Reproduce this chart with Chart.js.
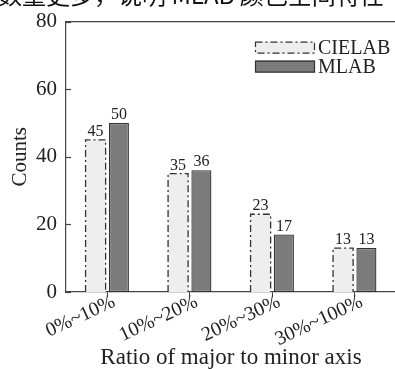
<!DOCTYPE html>
<html>
<head>
<meta charset="utf-8">
<script src="https://cdn.jsdelivr.net/npm/chart.js@4/dist/chart.umd.min.js"></script>
<style>
html, body { margin: 0; padding: 0; background: #fff; overflow: hidden; }
</style>
</head>
<body>
<canvas id="barChart" width="400" height="369"></canvas>
<script>
// data
const categories = ['0%~10%', '10%~20%', '20%~30%', '30%~100%'];
const cielabCounts = [45, 35, 23, 13];
const mlabCounts = [50, 36, 17, 13];
const seriesNames = ['CIELAB', 'MLAB'];
const yTicks = [0, 20, 40, 60, 80];
const xTitle = 'Ratio of major to minor axis';
const yTitle = 'Counts';
const captionLine = '数量更多，说明 MLAB 颜色空间特性';

const serif = "'Liberation Serif', 'DejaVu Serif', serif";
const inkColor = '#222';
const axisColor = '#444';
const dashDot = [7, 3, 2, 3];

// extra drawing: box, inward y ticks, dash-dot borders, value labels, legend, clipped caption
const extrasPlugin = {
    id: 'extras',
    afterDatasetsDraw(chart) {
        const c = chart.ctx;
        const area = chart.chartArea;
        const yScale = chart.scales.y;

        c.save();
        // top and right edge of the box
        c.strokeStyle = axisColor;
        c.lineWidth = 1.2;
        c.beginPath();
        c.moveTo(area.left, area.top);
        c.lineTo(area.right, area.top);
        c.lineTo(area.right, area.bottom);
        c.stroke();

        // inward y ticks
        yTicks.forEach(v => {
            const py = Math.round(yScale.getPixelForValue(v)) + 0.5;
            c.beginPath();
            c.moveTo(area.left, py);
            c.lineTo(area.left + 5, py);
            c.stroke();
        });

        // dash-dot border for the first series
        const meta0 = chart.getDatasetMeta(0);
        c.strokeStyle = '#333';
        c.lineWidth = 1.3;
        c.setLineDash(dashDot);
        meta0.data.forEach(bar => {
            const p = bar.getProps(['x', 'y', 'base', 'width'], true);
            const l = p.x - p.width / 2, r = p.x + p.width / 2;
            c.beginPath();
            c.moveTo(l, p.base);
            c.lineTo(l, p.y);
            c.lineTo(r, p.y);
            c.lineTo(r, p.base);
            c.stroke();
        });
        c.setLineDash([]);

        // value labels above bars
        c.fillStyle = inkColor;
        c.font = '16px ' + serif;
        c.textAlign = 'center';
        c.textBaseline = 'alphabetic';
        chart.data.datasets.forEach((ds, i) => {
            chart.getDatasetMeta(i).data.forEach((bar, j) => {
                const p = bar.getProps(['x', 'y'], true);
                c.fillText(String(ds.data[j]), p.x, p.y - 4);
            });
        });

        // legend, top right inside the box
        const boxW = 60, boxH = 12;
        const lx = area.right - 141;
        const rows = [area.top + 20, area.top + 39];
        c.font = '20px ' + serif;
        c.textAlign = 'left';
        c.textBaseline = 'middle';
        chart.data.datasets.forEach((ds, i) => {
            const ty = rows[i];
            c.fillStyle = ds.backgroundColor;
            c.fillRect(lx, ty, boxW, boxH);
            c.strokeStyle = '#333';
            c.lineWidth = 1.2;
            if (i === 0) c.setLineDash(dashDot);
            c.strokeRect(lx + 0.5, ty + 0.5, boxW - 1, boxH - 1);
            c.setLineDash([]);
            c.fillStyle = inkColor;
            c.fillText(seriesNames[i], lx + boxW + 3, ty + boxH / 2 + 1);
        });

        // caption line cut off at the top of the picture
        c.font = "24px 'Noto Sans CJK SC', sans-serif";
        c.textBaseline = 'alphabetic';
        c.fillStyle = '#111';
        c.fillText(captionLine, -2, 4);
        c.restore();
    }
};

const ctx = document.getElementById('barChart').getContext('2d');

const data = {
    labels: categories,
    datasets: [{
        label: seriesNames[0],
        data: cielabCounts,
        backgroundColor: '#eeeeee',
        borderWidth: 0,
    }, {
        label: seriesNames[1],
        data: mlabCounts,
        backgroundColor: '#7b7b7b',
        borderColor: '#333',
        borderWidth: 1.3,
        borderSkipped: false,
    }]
};

const options = {
    responsive: false,
    animation: false,
    devicePixelRatio: 1,
    layout: { padding: { top: 18, right: 4, left: 0, bottom: 0 } },
    datasets: {
        bar: { categoryPercentage: 0.565, barPercentage: 0.86 }
    },
    scales: {
        x: {
            grid: {
                display: true,
                drawOnChartArea: false,
                drawTicks: true,
                tickLength: 5,
                offset: false,
                color: axisColor,
            },
            border: { display: true, color: axisColor, width: 1.2 },
            ticks: {
                color: inkColor,
                font: { family: serif, size: 20 },
                minRotation: 25,
                maxRotation: 25,
                padding: -7,
                labelOffset: 7,
                autoSkip: false,
            },
            title: {
                display: true,
                text: xTitle,
                color: inkColor,
                font: { family: serif, size: 23, lineHeight: 1 },
                padding: { top: 0, bottom: 0 },
            },
            afterFit(scale) { scale.height = 77; }
        },
        y: {
            min: 0,
            max: 80,
            grid: { display: false, drawTicks: false },
            border: { display: true, color: axisColor, width: 1.2 },
            ticks: {
                color: inkColor,
                font: { family: serif, size: 21 },
                padding: 9,
            },
            afterBuildTicks(scale) { scale.ticks = yTicks.map(v => ({ value: v })); },
            title: {
                display: true,
                text: yTitle,
                color: inkColor,
                font: { family: serif, size: 21 },
                padding: { top: 8, bottom: 0 },
            },
            afterFit(scale) { scale.width = 66; }
        }
    },
    plugins: {
        legend: { display: false },
        tooltip: { enabled: false }
    }
};

const barChart = new Chart(ctx, {
    type: 'bar',
    data: data,
    options: options,
    plugins: [extrasPlugin],
});
</script>
</body>
</html>
